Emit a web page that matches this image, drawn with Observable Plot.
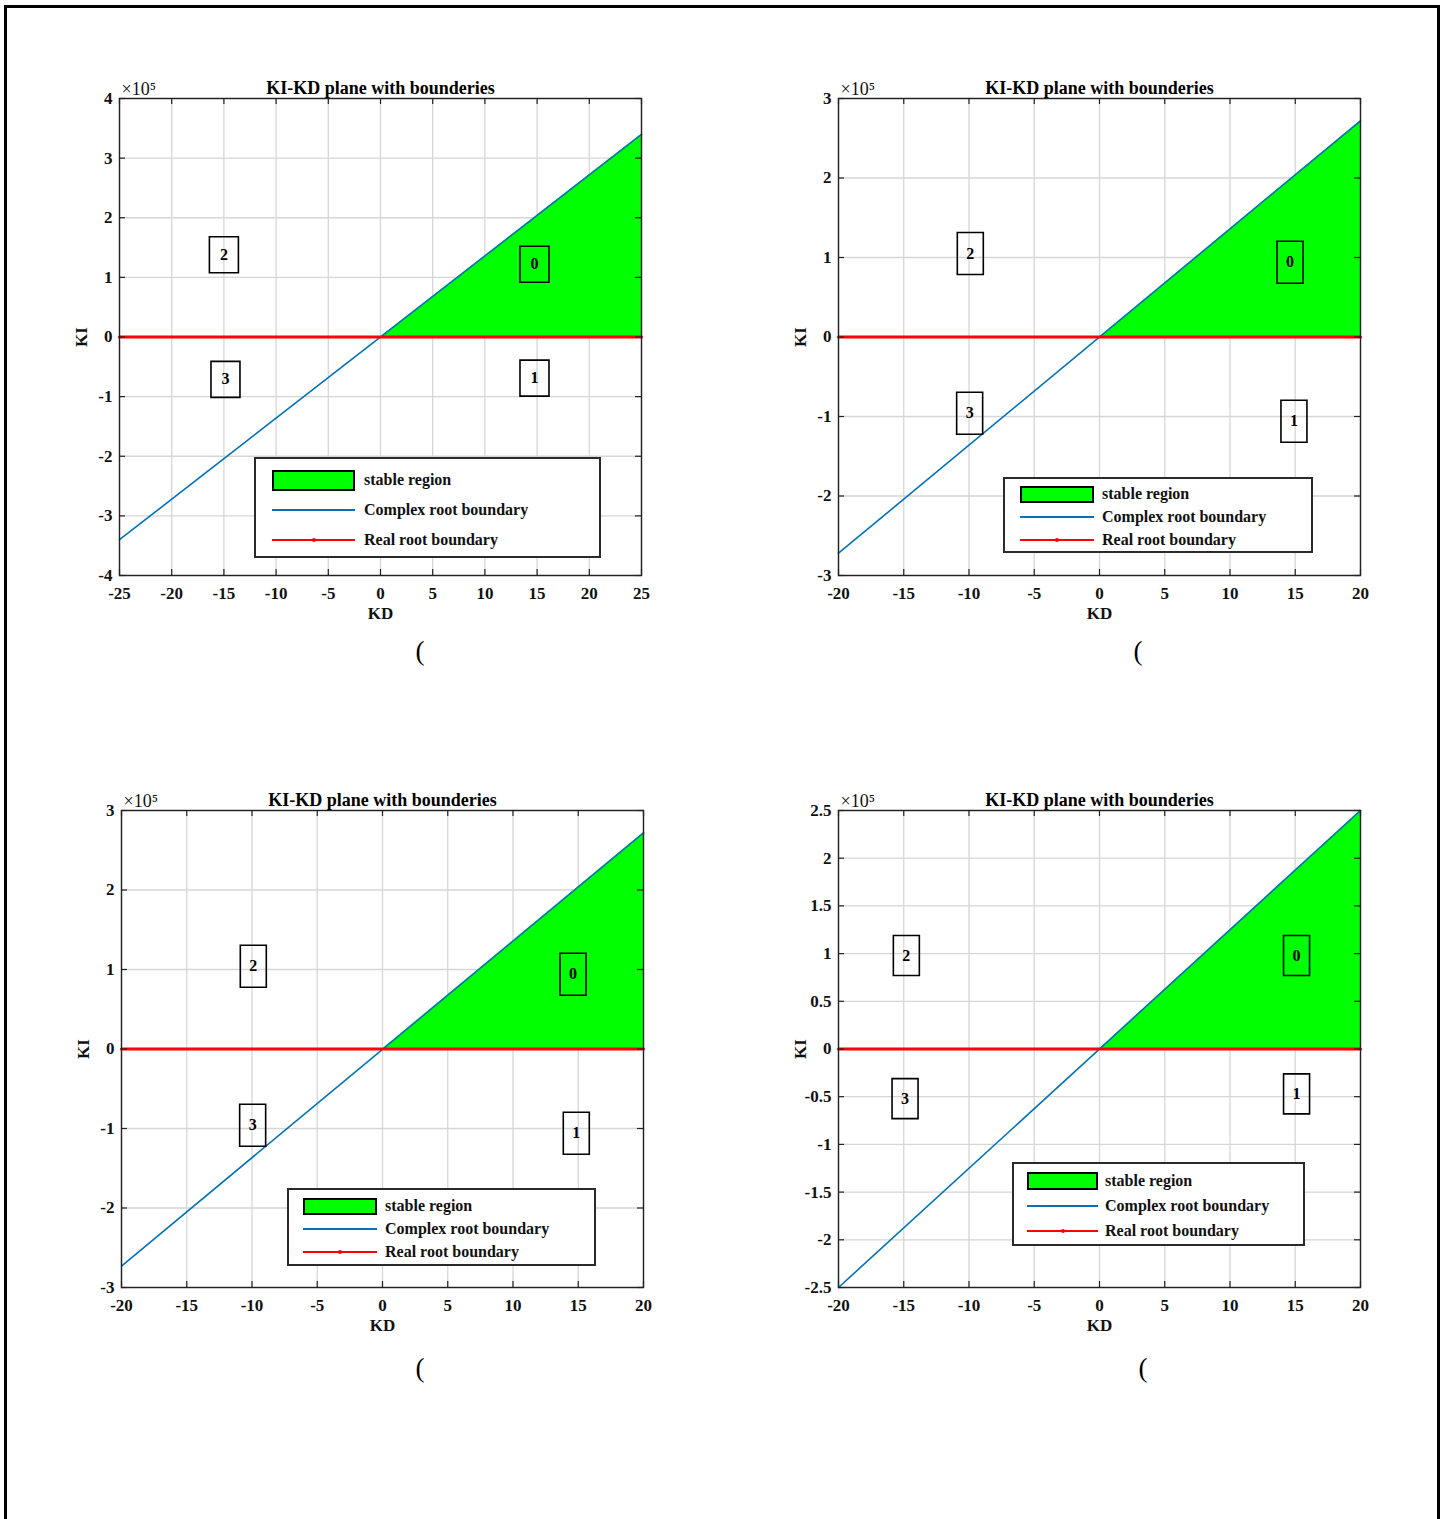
<!DOCTYPE html>
<html>
<head>
<meta charset="utf-8">
<script src="https://cdn.jsdelivr.net/npm/d3@7"></script>
<script src="https://cdn.jsdelivr.net/npm/@observablehq/plot@0.6"></script>
<style>
  body { margin: 0; background: #fff; }
  #page { position: relative; width: 1440px; height: 1519px; overflow: hidden; background: #fff; }
  .outer { position: absolute; left: 4px; top: 5px; width: 1430px; height: 1600px; border: 3px solid #000; }
  .panel { position: absolute; }
  .legend { position: absolute; background: #fff; border: 2px solid #2a2a2a; box-sizing: border-box;
            font-family: "Liberation Serif", "Times New Roman", serif; font-weight: bold; font-size: 16px; color: #111; }
  .legend .row { position: absolute; left: 0; right: 0; height: 0; }
  .legend .sw { position: absolute; box-sizing: border-box; }
  .legend .txt { position: absolute; white-space: nowrap; transform: translateY(-50%); }
  .caption { position: absolute; font-family: "Liberation Serif", "Times New Roman", serif; font-size: 27px; transform: translate(-50%, -50%); }
</style>
</head>
<body>
<div id="page"><div class="outer"></div></div>
<script>
// ---------------- data ----------------
const panelTitles = ["KI-KD plane with bounderies", "KI-KD plane with bounderies", "KI-KD plane with bounderies", "KI-KD plane with bounderies"];
const kiExponent = ["×10⁵", "×10⁵", "×10⁵", "×10⁵"];
const axisLabelX = "KD";
const axisLabelY = "KI";
const captions = ["(", "(", "(", "("];
const legendLabels = ["stable region", "Complex root boundary", "Real root boundary"];

const kdDomain = [[-25, 25], [-20, 20], [-20, 20], [-20, 20]];
const kiDomain = [[-4e5, 4e5], [-3e5, 3e5], [-3e5, 3e5], [-2.5e5, 2.5e5]];

const kdTicks = [
  [-25, -20, -15, -10, -5, 0, 5, 10, 15, 20, 25],
  [-20, -15, -10, -5, 0, 5, 10, 15, 20],
  [-20, -15, -10, -5, 0, 5, 10, 15, 20],
  [-20, -15, -10, -5, 0, 5, 10, 15, 20]
];
const kdTickLabels = [
  ["-25", "-20", "-15", "-10", "-5", "0", "5", "10", "15", "20", "25"],
  ["-20", "-15", "-10", "-5", "0", "5", "10", "15", "20"],
  ["-20", "-15", "-10", "-5", "0", "5", "10", "15", "20"],
  ["-20", "-15", "-10", "-5", "0", "5", "10", "15", "20"]
];
const kiTicks = [
  [-4e5, -3e5, -2e5, -1e5, 0, 1e5, 2e5, 3e5, 4e5],
  [-3e5, -2e5, -1e5, 0, 1e5, 2e5, 3e5],
  [-3e5, -2e5, -1e5, 0, 1e5, 2e5, 3e5],
  [-2.5e5, -2e5, -1.5e5, -1e5, -0.5e5, 0, 0.5e5, 1e5, 1.5e5, 2e5, 2.5e5]
];
const kiTickLabels = [
  ["-4", "-3", "-2", "-1", "0", "1", "2", "3", "4"],
  ["-3", "-2", "-1", "0", "1", "2", "3"],
  ["-3", "-2", "-1", "0", "1", "2", "3"],
  ["-2.5", "-2", "-1.5", "-1", "-0.5", "0", "0.5", "1", "1.5", "2", "2.5"]
];

// Complex root boundary (straight line through the origin)
const complexKD = [[-25, 25], [-20, 20], [-20, 20], [-20, 20]];
const complexKI = [[-3.4e5, 3.4e5], [-2.72e5, 2.72e5], [-2.73e5, 2.72e5], [-2.5e5, 2.5e5]];
// Real root boundary (KI = 0)
const realKD = [[-25, 25], [-20, 20], [-20, 20], [-20, 20]];
const realKI = [[0, 0], [0, 0], [0, 0], [0, 0]];
// Stable region (upper edge follows complex boundary for KD >= 0)
const stableKD = [[0, 25], [0, 20], [0, 20], [0, 20]];
const stableKI = [[0, 3.4e5], [0, 2.72e5], [0, 2.72e5], [0, 2.5e5]];

// Region number labels
const regionIds = ["0", "1", "2", "3"];
const regionKD = [
  [14.75, 14.75, -15.0, -14.85],
  [14.6, 14.9, -9.9, -9.95],
  [14.6, 14.85, -9.9, -9.95],
  [15.1, 15.1, -14.8, -14.9]
];
const regionKI = [
  [1.22e5, -0.69e5, 1.38e5, -0.71e5],
  [0.94e5, -1.06e5, 1.05e5, -0.96e5],
  [0.94e5, -1.06e5, 1.04e5, -0.96e5],
  [0.98e5, -0.47e5, 0.98e5, -0.52e5]
];

// ---------------- layout / style ----------------
const frames = [[119, 98, 641, 575], [838, 98, 1360, 575], [121, 810, 643, 1287], [838, 810, 1360, 1287]];
const boxSizes = [[29, 36], [26, 42], [26, 42], [26, 40]];
const legendLayout = [
  {left: 254, top: 457, w: 347, h: 101, rows: [21, 51, 81], swL: 16, swW: 83, swH: 21, txtL: 108},
  {left: 1003, top: 477, w: 310, h: 76, rows: [15, 38, 61], swL: 15, swW: 74, swH: 17, txtL: 97},
  {left: 287, top: 1188, w: 309, h: 78, rows: [16, 39, 62], swL: 14, swW: 74, swH: 17, txtL: 96},
  {left: 1012, top: 1162, w: 293, h: 84, rows: [17, 42, 67], swL: 13, swW: 71, swH: 18, txtL: 91}
];
const captionPos = [[420, 651], [1138, 651], [420, 1368], [1143, 1368]];
const M = {top: 45, right: 25, bottom: 55, left: 60};
const FONT = '"Liberation Serif", "Times New Roman", serif';
const GREEN = "#00ff00", BLUE = "#0072bd", RED = "#ff0000";

const page = document.getElementById("page");

function boxSymbol(w, h) {
  return {draw(context) { context.rect(-w / 2, -h / 2, w, h); }};
}

for (let i = 0; i < 4; i++) {
  const [fx0, fy0, fx1, fy1] = frames[i];
  const W = fx1 - fx0, H = fy1 - fy0;
  const complex = complexKD[i].map((x, j) => ({kd: x, ki: complexKI[i][j]}));
  const real = realKD[i].map((x, j) => ({kd: x, ki: realKI[i][j]}));
  const stable = stableKD[i].map((x, j) => ({kd: x, ki: stableKI[i][j]}));
  const regions = regionIds.map((id, j) => ({id, kd: regionKD[i][j], ki: regionKI[i][j]}));
  const tick = 6;

  const chart = Plot.plot({
    width: W + M.left + M.right,
    height: H + M.top + M.bottom,
    marginTop: M.top, marginRight: M.right, marginBottom: M.bottom, marginLeft: M.left,
    x: {domain: kdDomain[i]},
    y: {domain: kiDomain[i]},
    style: {fontFamily: FONT, fontSize: "17px", fontWeight: "bold", color: "#111", background: "transparent", overflow: "visible"},
    marks: [
      Plot.gridX(kdTicks[i], {stroke: "#d6d6d6", strokeOpacity: 1, strokeWidth: 1.3}),
      Plot.gridY(kiTicks[i], {stroke: "#d6d6d6", strokeOpacity: 1, strokeWidth: 1.3}),
      Plot.areaY(stable, {x: "kd", y: "ki", fill: GREEN, fillOpacity: 1}),
      Plot.line(complex, {x: "kd", y: "ki", stroke: BLUE, strokeWidth: 1.6}),
      Plot.line(real, {x: "kd", y: "ki", stroke: RED, strokeWidth: 3.2}),
      Plot.dot(regions, {x: "kd", y: "ki", symbol: boxSymbol(boxSizes[i][0], boxSizes[i][1]), stroke: "#000", strokeWidth: 1.6, fill: "none"}),
      Plot.text(regions, {x: "kd", y: "ki", text: "id", fontSize: 16, fontWeight: "bold", fill: "#000"}),
      // inward ticks on all four sides
      Plot.gridX(kdTicks[i], {stroke: "#222", strokeOpacity: 1, strokeWidth: 1.2, insetTop: H - tick}),
      Plot.gridX(kdTicks[i], {stroke: "#222", strokeOpacity: 1, strokeWidth: 1.2, insetBottom: H - tick}),
      Plot.gridY(kiTicks[i], {stroke: "#222", strokeOpacity: 1, strokeWidth: 1.2, insetRight: W - tick}),
      Plot.gridY(kiTicks[i], {stroke: "#222", strokeOpacity: 1, strokeWidth: 1.2, insetLeft: W - tick}),
      Plot.axisX(kdTicks[i], {tickSize: 0, tickPadding: 11, tickFormat: (d) => kdTickLabels[i][kdTicks[i].indexOf(d)],
        label: axisLabelX, labelAnchor: "center", labelOffset: 43, labelArrow: "none"}),
      Plot.axisY(kiTicks[i], {tickSize: 0, tickPadding: 7, tickFormat: (d) => kiTickLabels[i][kiTicks[i].indexOf(d)],
        label: axisLabelY, labelAnchor: "center", labelOffset: 45, labelArrow: "none"}),
      Plot.frame({stroke: "#222", strokeWidth: 1.4}),
      Plot.text([panelTitles[i]], {text: (d) => d, frameAnchor: "top", lineAnchor: "middle", dy: -10, fontSize: 18, fontWeight: "bold", fill: "#000"}),
      Plot.text([kiExponent[i]], {text: (d) => d, frameAnchor: "top-left", lineAnchor: "middle", textAnchor: "start", dx: 2, dy: -9, fontSize: 18, fontWeight: "normal", fill: "#111"})
    ]
  });
  chart.classList.add("panel");
  chart.style.left = (fx0 - M.left) + "px";
  chart.style.top = (fy0 - M.top) + "px";
  page.appendChild(chart);

  // legend (inside the axes, MATLAB style)
  const L = legendLayout[i];
  const lg = document.createElement("div");
  lg.className = "legend";
  Object.assign(lg.style, {left: L.left + "px", top: L.top + "px", width: L.w + "px", height: L.h + "px"});
  legendLabels.forEach((lab, j) => {
    const row = document.createElement("div");
    row.className = "row";
    row.style.top = L.rows[j] + "px";
    const sw = document.createElement("div");
    sw.className = "sw";
    if (j === 0) {
      Object.assign(sw.style, {left: L.swL + "px", top: (-L.swH / 2) + "px", width: L.swW + "px", height: L.swH + "px", background: GREEN, border: "2px solid #000"});
    } else {
      Object.assign(sw.style, {left: L.swL + "px", top: "-1px", width: L.swW + "px", height: "2px", background: j === 1 ? BLUE : RED});
      if (j === 2) {
        const dot = document.createElement("div");
        Object.assign(dot.style, {position: "absolute", left: (L.swW / 2 - 2) + "px", top: "-1px", width: "4px", height: "4px", background: RED, borderRadius: "2px"});
        sw.appendChild(dot);
      }
    }
    const tx = document.createElement("div");
    tx.className = "txt";
    tx.style.left = L.txtL + "px";
    tx.textContent = lab;
    row.appendChild(sw);
    row.appendChild(tx);
    lg.appendChild(row);
  });
  page.appendChild(lg);

  const cap = document.createElement("div");
  cap.className = "caption";
  cap.style.left = captionPos[i][0] + "px";
  cap.style.top = captionPos[i][1] + "px";
  cap.textContent = captions[i];
  page.appendChild(cap);
}
</script>
</body>
</html>
